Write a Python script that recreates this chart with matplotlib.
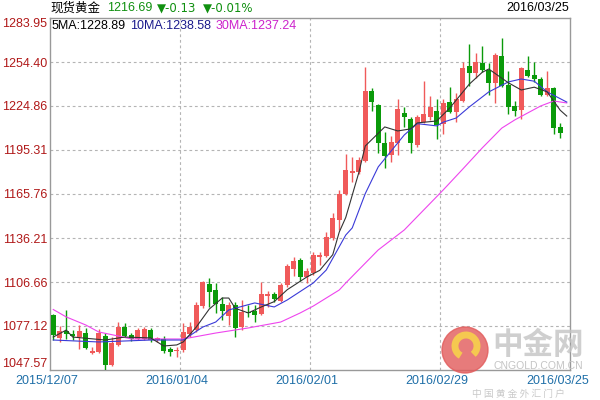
import numpy as np
import matplotlib
matplotlib.use('Agg')
import matplotlib.pyplot as plt
from matplotlib.patches import Ellipse, Arc

# daily candles 2015/12/07 .. 2016/03/25 (80 trading days)
opens = [1084.5, 1069.1, 1073.8, 1071.8, 1069.7, 1072.4, 1059.0, 1059.7, 1070.4, 1050.9,
         1064.4, 1076.4, 1071.1, 1068.4, 1068.4, 1074.4, 1067.7, 1068.4, 1061.7, 1060.3,
         1061.0, 1071.8, 1074.4, 1090.5, 1105.3, 1101.3, 1091.9, 1083.8, 1091.2, 1076.4,
         1086.5, 1087.2, 1085.2, 1097.3, 1098.6, 1093.9, 1104.6, 1115.4, 1121.4, 1110.0,
         1112.7, 1123.5, 1124.1, 1136.2, 1148.3, 1165.8, 1179.9, 1180.5, 1187.9, 1234.9,
         1225.5, 1200.0, 1192.0, 1200.0, 1220.2, 1216.1, 1198.7, 1214.1, 1217.5, 1221.5,
         1212.8, 1227.5, 1220.8, 1228.2, 1251.7, 1247.0, 1253.7, 1249.0, 1240.3, 1258.4,
         1239.0, 1224.9, 1222.2, 1249.0, 1245.7, 1243.0, 1232.2, 1236.9, 1210.8, 1207.6]
highs = [1085.2, 1077.1, 1087.9, 1074.4, 1077.8, 1075.8, 1063.0, 1075.1, 1072.4, 1069.7,
         1079.8, 1079.1, 1072.4, 1075.8, 1076.4, 1075.8, 1069.7, 1070.4, 1063.0, 1063.0,
         1079.1, 1079.8, 1093.2, 1107.3, 1109.4, 1106.0, 1096.6, 1093.2, 1093.2, 1094.6,
         1091.2, 1091.2, 1106.7, 1100.6, 1099.9, 1106.0, 1118.8, 1123.5, 1122.8, 1116.1,
         1126.8, 1126.8, 1140.3, 1153.0, 1168.5, 1192.6, 1190.6, 1190.6, 1251.0, 1236.9,
         1226.2, 1207.4, 1204.7, 1229.6, 1224.2, 1217.5, 1218.8, 1241.7, 1231.6, 1229.6,
         1229.6, 1237.6, 1233.6, 1254.4, 1266.5, 1260.5, 1265.1, 1253.7, 1260.5, 1270.5,
         1248.4, 1228.2, 1251.0, 1258.4, 1254.4, 1244.3, 1248.4, 1237.6, 1213.4, 1207.6]
lows = [1067.7, 1066.4, 1068.4, 1067.7, 1061.7, 1061.7, 1058.3, 1059.0, 1047.9, 1050.3,
        1063.7, 1069.7, 1067.1, 1067.7, 1067.7, 1066.4, 1066.4, 1059.0, 1057.0, 1056.3,
        1059.7, 1069.7, 1073.1, 1089.2, 1089.9, 1085.9, 1081.2, 1077.8, 1069.7, 1074.4,
        1083.2, 1079.8, 1084.5, 1089.9, 1093.2, 1093.2, 1103.3, 1110.7, 1107.3, 1106.0,
        1111.4, 1118.1, 1123.5, 1134.9, 1141.6, 1165.1, 1173.8, 1179.2, 1187.3, 1221.5,
        1193.3, 1183.2, 1187.3, 1192.0, 1210.8, 1193.3, 1197.3, 1213.4, 1215.5, 1202.7,
        1206.1, 1220.2, 1214.1, 1227.5, 1238.3, 1243.7, 1247.7, 1232.2, 1226.9, 1237.6,
        1219.5, 1218.1, 1216.1, 1244.3, 1241.0, 1231.6, 1231.6, 1206.1, 1203.4, 1207.2]
closes = [1071.1, 1073.8, 1071.8, 1070.4, 1073.8, 1062.4, 1060.3, 1072.4, 1050.9, 1065.7,
          1076.4, 1070.4, 1068.4, 1074.4, 1075.1, 1067.7, 1069.1, 1060.3, 1059.7, 1061.0,
          1073.1, 1076.4, 1091.2, 1106.7, 1099.9, 1091.9, 1087.2, 1091.2, 1075.8, 1086.5,
          1085.9, 1084.5, 1098.6, 1098.6, 1095.3, 1104.6, 1117.4, 1120.8, 1110.0, 1114.0,
          1124.8, 1124.8, 1136.9, 1149.6, 1165.8, 1181.9, 1181.2, 1188.6, 1234.9, 1227.5,
          1200.0, 1191.3, 1200.7, 1222.8, 1217.5, 1200.0, 1217.5, 1219.5, 1224.2, 1212.1,
          1226.9, 1220.8, 1229.6, 1250.4, 1247.0, 1254.4, 1249.0, 1240.3, 1259.1, 1238.3,
          1224.2, 1221.5, 1250.4, 1245.0, 1243.0, 1232.2, 1236.9, 1210.1, 1206.7, 1207.2]

# moving average lines as drawn (sampled at candle index)
ma5_idx = [0, 2, 3, 8, 11, 15, 17, 19, 20, 22, 24, 26, 27, 28, 30, 32, 34, 36, 39, 41,
           43, 44, 45, 46, 47, 48, 51, 53, 55, 56, 59, 61, 64, 66, 67, 70, 72, 74, 76, 78, 79]
ma5_val = [1069.7, 1074.4, 1069.7, 1067.7, 1069.7, 1069.1, 1063.7, 1064.4, 1066.4, 1076.4,
           1088.5, 1095.9, 1095.9, 1089.0, 1085.9, 1089.9, 1093.5, 1101.5, 1110.0, 1114.5,
           1125.0, 1140.2, 1150.0, 1165.0, 1180.0, 1198.0, 1210.8, 1208.1, 1209.5, 1213.5,
           1214.8, 1223.5, 1239.5, 1247.5, 1249.7, 1240.5, 1235.6, 1237.5, 1234.3, 1222.0, 1218.1]
ma10_idx = [0, 7, 15, 20, 23, 25, 27, 31, 34, 36, 40, 42, 45, 46, 48, 50, 54, 56, 59, 60,
            62, 64, 67, 70, 72, 74, 76, 79]
ma10_val = [1067.7, 1066.4, 1067.7, 1067.7, 1076.4, 1079.8, 1087.9, 1092.6, 1089.9, 1094.6,
            1106.0, 1114.7, 1138.2, 1143.0, 1166.0, 1184.0, 1205.4, 1213.0, 1211.5, 1214.0,
            1216.8, 1224.2, 1234.3, 1241.0, 1243.0, 1241.5, 1234.3, 1227.5]
ma30_idx = [0, 2, 5, 7, 10, 12, 20, 25, 30, 35, 38, 40, 44, 45, 50, 54, 60, 63, 66, 69,
            71, 75, 77, 79]
ma30_val = [1088.2, 1083.2, 1077.8, 1073.1, 1070.4, 1068.4, 1068.4, 1072.4, 1075.8, 1079.8,
            1085.9, 1090.5, 1101.3, 1106.0, 1128.2, 1141.6, 1168.5, 1182.5, 1196.7, 1210.0,
            1215.5, 1224.9, 1228.2, 1226.9]

y_ticks = [1047.57, 1077.12, 1106.66, 1136.21, 1165.76, 1195.31, 1224.86, 1254.40, 1283.95]
date_labels = ['2015/12/07', '2016/01/04', '2016/02/01', '2016/02/29', '2016/03/25']
date_idx = [0, 20, 40, 60, 79]

RED = '#f05a5a'
GREEN = '#0a9a0a'

plt.rcParams['font.family'] = ['Liberation Sans', 'DejaVu Sans']
fig = plt.figure(figsize=(6, 4), dpi=100)
ax = fig.add_axes([50 / 600, 30 / 400, 520 / 600, 352 / 400])

x = np.arange(len(opens))
o = np.array(opens)
c = np.array(closes)
cols = [RED if cc >= oo else GREEN for oo, cc in zip(o, c)]

ax.vlines(x, lows, highs, colors=cols, linewidth=1, zorder=3)
body = np.maximum(np.abs(c - o), 0.45)
ax.bar(x, body, bottom=np.minimum(o, c), width=0.75, color=cols, linewidth=0, zorder=4)

ax.plot(ma30_idx, ma30_val, color='#ee44ee', lw=0.8, zorder=5)
ax.plot(ma10_idx, ma10_val, color='#3a3ad8', lw=0.8, zorder=5)
ax.plot(ma5_idx, ma5_val, color='#333333', lw=0.8, zorder=5)

ax.set_xlim(-0.5, 79.5)
ax.set_ylim(y_ticks[0], y_ticks[-1])

# grid
for yv in y_ticks[1:-1]:
    ax.axhline(yv, color='#b4b4b4', lw=0.8, ls=(0, (2.5, 2.5)), zorder=1)
for d in date_idx[1:-1]:
    ax.axvline(d - 0.5, color='#b4b4b4', lw=0.8, ls=(0, (2.5, 2.5)), zorder=1)

for s in ax.spines.values():
    s.set_color('#999999')
    s.set_linewidth(1)

ax.set_yticks(y_ticks)
ax.set_yticklabels(['%.2f' % v for v in y_ticks], color='#b01818', fontsize=9)
ax.tick_params(axis='y', length=0, pad=2)
ylabs = ax.get_yticklabels()
ylabs[0].set_va('bottom')
ylabs[-1].set_va('top')
ax.set_xticks([])

for lab, d in zip(date_labels, date_idx):
    ax.text(d - 1.0 if d < 79 else d - 1.4, -0.032, lab, transform=ax.get_xaxis_transform(),
            ha='center', va='center', color='#1f6fa8', fontsize=9)


# header
def ftxt(px, py, s, size=9, **kw):
    fig.text(px / 600, 1 - py / 400, s, va='center', ha='left', fontsize=size, **kw)


ftxt(50, 8, '现货黄金', color='black', family=['Noto Sans CJK SC', 'DejaVu Sans'])
ftxt(107, 8, '1216.69', color='#109010')
ftxt(157, 8, '▼-0.13', size=8.5, color='#109010', family=['DejaVu Sans'])
ftxt(203, 8, '▼-0.01%', size=8.5, color='#109010', family=['DejaVu Sans'])
fig.text(569 / 600, 1 - 8 / 400, '2016/03/25', ha='right', va='center', fontsize=9, color='black')
ftxt(52, 26, '5MA:1228.89', color='black')
ftxt(130, 26, '10MA:1238.58', color='#1a1a8c')
ftxt(216, 26, '30MA:1237.24', color='#cc22cc')

# watermark
fig.patches.append(Ellipse((465 / 600, 1 - 350 / 400), 46 / 600, 46 / 400,
                           transform=fig.transFigure, color='#e25a5a', alpha=0.8, zorder=10))
fig.patches.append(Arc((466 / 600, 1 - 346 / 400), 22 / 600, 22 / 400, theta1=-60, theta2=250,
                       transform=fig.transFigure, color='#f5c850', lw=5, zorder=11))
fig.text(538 / 600, 1 - 345 / 400, '中金网', ha='center', va='center', fontsize=22,
         color='#c4c4c4', alpha=0.8, weight='bold', family=['Noto Sans CJK SC'], zorder=10)
fig.text(538 / 600, 1 - 366 / 400, 'CNGOLD.COM.CN', ha='center', va='center', fontsize=7.5,
         color='#c4c4c4', zorder=10)
fig.text(518 / 600, 1 - 394 / 400, '中 国 黄 金 外 汇 门 户', ha='center', va='center', fontsize=7,
         color='#bcbcbc', alpha=0.8, family=['Noto Sans CJK SC'], zorder=10)

fig.savefig('out.png', dpi=100)
